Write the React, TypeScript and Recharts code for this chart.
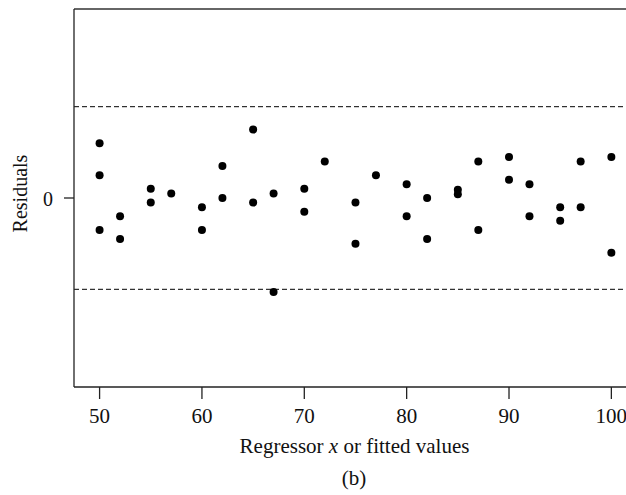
import React from 'react';
import { ScatterChart, Scatter, XAxis, YAxis, ReferenceLine } from 'recharts';

// regressor values and their residuals
const xValues = [
  50, 50, 50, 52, 52, 55, 55, 57, 60, 60, 62, 62, 65, 65, 67, 67, 70, 70, 72, 75, 75,
  77, 80, 80, 82, 82, 85, 85, 87, 87, 90, 90, 92, 92, 95, 95, 97, 97, 100, 100,
];
const residuals = [
  0.6, 0.25, -0.35, -0.2, -0.45, 0.1, -0.05, 0.05, -0.1, -0.35, 0.35, 0.0, 0.75, -0.05, 0.05, -1.03,
  0.1, -0.15, 0.4, -0.05, -0.5, 0.25, 0.15, -0.2, 0.0, -0.45, 0.09, 0.04, 0.4, -0.35,
  0.45, 0.2, 0.15, -0.2, -0.1, -0.25, 0.4, -0.1, 0.45, -0.6,
];
const xTicks = [50, 60, 70, 80, 90, 100];
const yTicks = [0];
const limits = [1, -1];

const points = xValues.map((x, i) => ({ x, r: residuals[i] }));

const FONT = '"Liberation Serif", "Times New Roman", serif';
const Y_MAX = 2.07;

const Dot = (props: any) => <circle cx={props.cx} cy={props.cy} r={4} fill="#000" />;

const XTick = (props: any) => (
  <text x={props.x} y={props.y} dy={14} textAnchor="middle" fontFamily={FONT} fontSize={21} fill="#111">
    {props.payload.value}
  </text>
);

const YTick = (props: any) => (
  <text x={props.x} y={props.y} dy={8} textAnchor="end" fontFamily={FONT} fontSize={20} fill="#111">
    {props.payload.value}
  </text>
);

const xLabel = () => (
  <g fontFamily={FONT} fontSize={21} fill="#111">
    <text x={354.5} y={453} textAnchor="middle">
      Regressor <tspan fontStyle="italic">x</tspan> or fitted values
    </text>
    <text x={354} y={485} textAnchor="middle">(b)</text>
  </g>
);

const yLabel = () => (
  <text
    x={26.7}
    y={193.5}
    transform="rotate(-90 26.7 193.5)"
    textAnchor="middle"
    fontFamily={FONT}
    fontSize={20}
    fill="#111"
  >
    Residuals
  </text>
);

export default function App() {
  return (
    <div style={{ position: 'absolute', left: 0, top: 0, width: 626, height: 495, overflow: 'hidden', background: '#fff' }}>
      <ScatterChart width={626} height={495} margin={{ top: 9, right: 0, bottom: 0, left: 0 }}>
        <XAxis
          type="number"
          dataKey="x"
          domain={[47.5, 101.43]}
          ticks={xTicks}
          allowDataOverflow
          height={108}
          tickSize={12}
          tickMargin={10}
          stroke="#222"
          strokeWidth={1.3}
          tick={XTick}
          label={{ content: xLabel }}
        />
        <YAxis
          type="number"
          dataKey="r"
          domain={[-Y_MAX, Y_MAX]}
          ticks={yTicks}
          allowDataOverflow
          width={74}
          tickSize={10}
          tickMargin={11}
          stroke="#222"
          strokeWidth={1.3}
          tick={YTick}
          label={{ content: yLabel }}
        />
        <ReferenceLine y={Y_MAX} stroke="#333" strokeWidth={1.5} />
        {limits.map((v) => (
          <ReferenceLine key={v} y={v} stroke="#000" strokeWidth={1} strokeDasharray="5 3" />
        ))}
        <Scatter data={points} shape={Dot} isAnimationActive={false} />
      </ScatterChart>
    </div>
  );
}
